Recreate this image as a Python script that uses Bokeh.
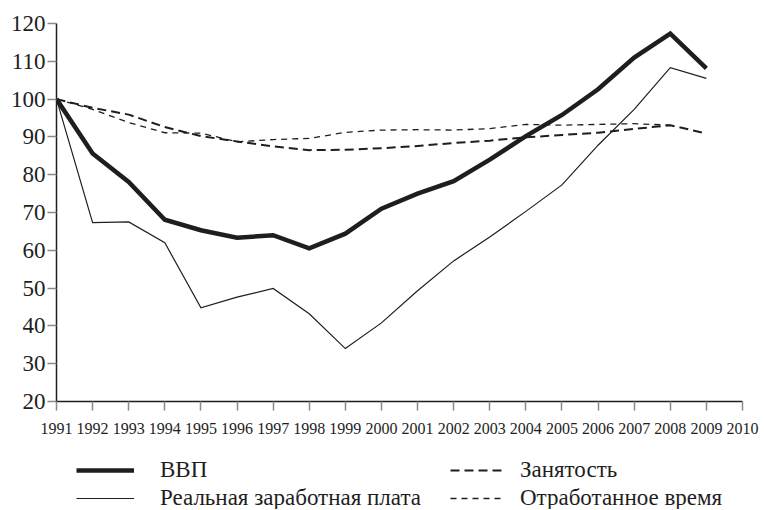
from bokeh.plotting import figure
from bokeh.models import Range1d, Legend, LegendItem, FixedTicker
from bokeh.layouts import column
from bokeh.embed import file_html
from bokeh.resources import INLINE

years = list(range(1991, 2010))
gdp = [100, 85.6, 78.1, 68.1, 65.3, 63.3, 64.0, 60.5, 64.4, 71.0, 75.0, 78.3, 84.0, 90.2, 95.8, 102.6, 111.0, 117.3, 108.1]
wages = [100, 67.3, 67.5, 62.0, 44.8, 47.6, 49.9, 43.2, 34.0, 40.8, 49.3, 57.2, 63.5, 70.3, 77.3, 87.8, 97.3, 108.3, 105.5]
employment = [100, 97.7, 95.9, 92.6, 90.2, 88.8, 87.5, 86.5, 86.6, 87.0, 87.6, 88.4, 89.0, 89.9, 90.5, 91.1, 92.1, 93.1, 90.9]
hours_years = list(range(1991, 2009))
hours = [100, 97.3, 93.8, 91.1, 91.0, 88.7, 89.3, 89.6, 91.2, 91.8, 91.9, 91.8, 92.2, 93.3, 93.1, 93.3, 93.5, 93.1]

x_ticks = list(range(1991, 2011))
y_ticks = list(range(20, 121, 10))
labels = ["ВВП", "Реальная заработная плата", "Занятость", "Отработанное время"]

FONT = "'Liberation Serif', 'Times New Roman', serif"
INK = "#1e1e1e"
STYLES = [
    dict(line_color=INK, line_width=4.5),
    dict(line_color=INK, line_width=1.2),
    dict(line_color=INK, line_width=2, line_dash="9 5"),
    dict(line_color=INK, line_width=1.3, line_dash="6 5"),
]
SERIES = [(years, gdp), (years, wages), (years, employment), (hours_years, hours)]

p = figure(width=760, height=441, output_backend="svg", toolbar_location=None,
           x_range=Range1d(1991, 2010), y_range=Range1d(20, 120),
           min_border_left=56, min_border_right=18, min_border_top=23, min_border_bottom=40)
p.outline_line_color = None
p.grid.visible = False

p.xaxis.ticker = FixedTicker(ticks=x_ticks)
p.yaxis.ticker = FixedTicker(ticks=y_ticks)
for ax in (p.xaxis, p.yaxis):
    ax.axis_line_color = INK
    ax.axis_line_width = 1.5
    ax.major_tick_line_color = "#8a8a8a"
    ax.major_tick_line_width = 1.5
    ax.major_tick_in = 0
    ax.major_tick_out = 9
    ax.minor_tick_line_color = None
    ax.major_label_text_font = FONT
    ax.major_label_text_color = INK
p.xaxis.major_label_text_font_size = "16px"
p.xaxis.major_label_standoff = 12
p.yaxis.major_label_text_font_size = "23px"
p.yaxis.major_label_standoff = 2

for (xs, ys), st in zip(SERIES, STYLES):
    p.line(xs, ys, line_join="miter", **st)

# legend strip below the chart (its frame is aligned with the chart's frame;
# the series are drawn outside its visible y range, only the legend shows)
leg = figure(width=760, height=68, output_backend="svg", toolbar_location=None,
             x_range=Range1d(1991, 2010), y_range=Range1d(200, 300),
             x_axis_type=None, y_axis_type=None, min_border=0)
leg.outline_line_color = None
leg.grid.visible = False
rs = [leg.line(xs, ys, **st) for (xs, ys), st in zip(SERIES, STYLES)]


def make_legend(idx, loc, gw, standoff):
    lg = Legend(items=[LegendItem(label=labels[i], renderers=[rs[i]]) for i in idx],
                location=loc)
    lg.label_text_font = FONT
    lg.label_text_font_size = "23px"
    lg.label_text_color = INK
    lg.glyph_width = gw
    lg.glyph_height = 26
    lg.label_height = 26
    lg.label_standoff = standoff
    lg.spacing = 2
    lg.padding = 0
    lg.margin = 0
    lg.border_line_color = None
    lg.background_fill_alpha = 0
    return lg


leg.add_layout(make_legend([0, 1], (20, -2), 58, 26), "center")
leg.add_layout(make_legend([2, 3], (394, -2), 55, 15), "center")

open("out.html", "w").write(file_html(column(p, leg), INLINE))
